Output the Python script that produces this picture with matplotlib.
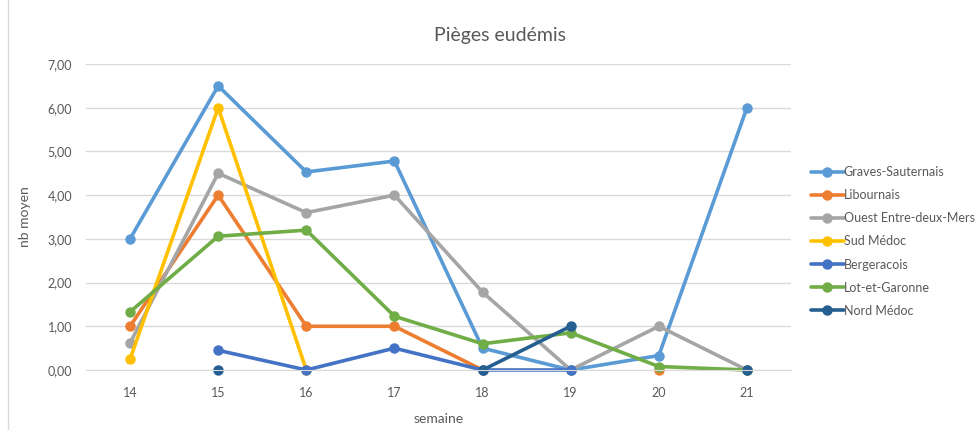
import numpy as np
import matplotlib
matplotlib.use("Agg")
import matplotlib.pyplot as plt
from matplotlib.ticker import FuncFormatter

plt.rcParams['font.family'] = ['Lato', 'DejaVu Sans']

semaines = [14, 15, 16, 17, 18, 19, 20, 21]
nan = np.nan

series = {
    "Graves-Sauternais":     [3.00, 6.50, 4.53, 4.78, 0.50, 0.00, 0.33, 6.00],
    "Libournais":            [1.00, 4.00, 1.00, 1.00, 0.00, nan, 0.00, nan],
    "Ouest Entre-deux-Mers": [0.62, 4.50, 3.60, 4.00, 1.78, 0.00, 1.00, 0.00],
    "Sud Médoc":             [0.25, 6.00, 0.00, nan, nan, nan, nan, nan],
    "Bergeracois":           [nan, 0.45, 0.00, 0.50, 0.00, 0.00, nan, nan],
    "Lot-et-Garonne":        [1.33, 3.06, 3.20, 1.23, 0.60, 0.85, 0.08, 0.00],
    "Nord Médoc":            [nan, 0.00, nan, nan, 0.00, 1.00, nan, 0.00],
}
couleurs = ["#5B9BD5", "#ED7D31", "#A5A5A5", "#FFC000", "#4472C4", "#70AD47", "#255E91"]

texte = "#595959"

fig = plt.figure(figsize=(9.79, 4.30), dpi=100)
ax = fig.add_axes([86 / 979, 1 - 370 / 430, (791 - 86) / 979, (370 - 64) / 430])

for (nom, vals), col in zip(series.items(), couleurs):
    ax.plot(semaines, vals, color=col, lw=2.6, marker="o", ms=6.5, label=nom,
            solid_capstyle="round", clip_on=False)

ax.set_xlim(13.5, 21.5)
ax.set_ylim(0, 7)
ax.set_xticks(semaines)
ax.set_yticks(np.arange(0, 8, 1))
ax.yaxis.set_major_formatter(FuncFormatter(lambda v, p: f"{v:.2f}".replace(".", ",")))
ax.grid(axis="y", color="#D9D9D9", lw=1)
ax.set_axisbelow(True)
for s in ["top", "right", "left"]:
    ax.spines[s].set_visible(False)
ax.spines["bottom"].set_color("#D9D9D9")
ax.tick_params(length=0, colors=texte, labelsize=9, pad=10)
ax.tick_params(axis="x", pad=12)

ax.set_ylabel("nb moyen", color=texte, fontsize=10, labelpad=12)
ax.set_xlabel("semaine", color=texte, fontsize=10, labelpad=10)
fig.text(500 / 979, 1 - 35 / 430, "Pièges eudémis", ha="center", va="center",
         fontsize=14, color=texte)

leg = ax.legend(loc="center left", bbox_to_anchor=(1.0, 0.42), frameon=False,
                fontsize=9, labelspacing=0.89, handlelength=2.6, handletextpad=0.0,
                borderaxespad=1.2)
for t in leg.get_texts():
    t.set_color(texte)

# cadre gris du graphique
fig.patches.append(plt.Rectangle((8 / 979, -0.01), 1.0, 1.2, transform=fig.transFigure,
                                 fill=False, ec="#D9D9D9", lw=1))

fig.savefig("out.png", dpi=100)
